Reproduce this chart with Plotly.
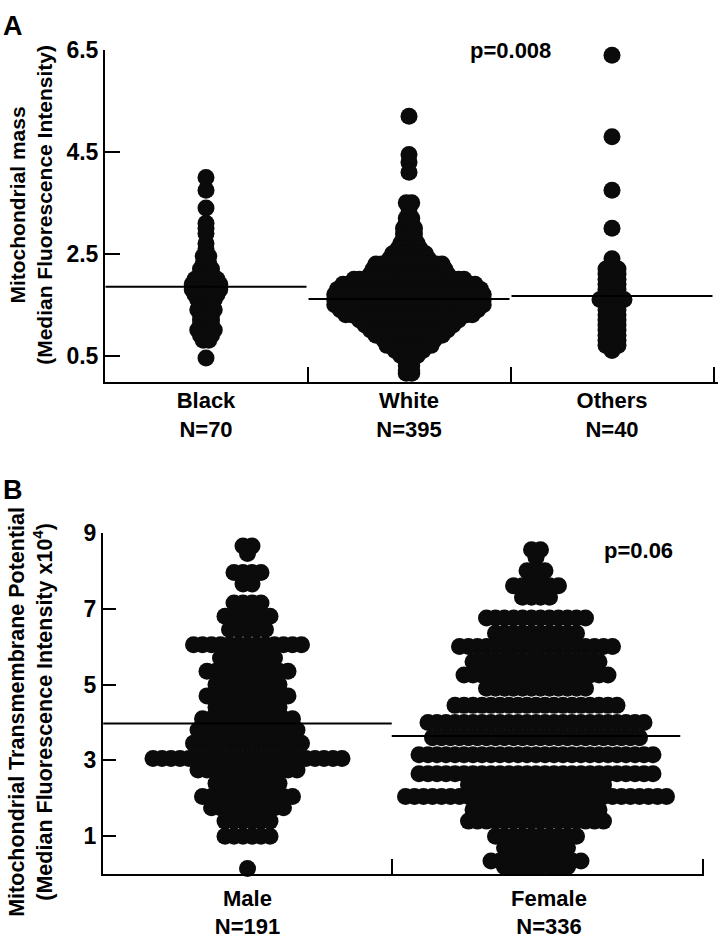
import plotly.graph_objects as go

# ---------------- Panel A: Mitochondrial mass by race ----------------
race_labels = ["Black<br>N=70", "White<br>N=395", "Others<br>N=40"]
race_means = [1.85, 1.61, 1.67]

black_vals = [4.0, 3.75, 3.4, 3.1, 3.0, 2.9, 2.7, 2.6, 2.45, 2.3, 2.2, 2.1, 2.0,
              1.9, 1.8, 1.7, 1.6, 1.5, 1.4, 1.3, 1.2, 1.1, 1.0, 0.9, 0.8, 0.45]
black_counts = [1, 1, 1, 1, 1, 1, 1, 1, 2, 2, 3, 3, 5,
                6, 6, 5, 4, 3, 4, 3, 3, 3, 4, 3, 2, 1]

white_vals = [5.2, 4.45, 4.3, 4.1, 3.5, 3.4, 3.3, 3.2, 3.1, 3.0, 2.9, 2.8, 2.7,
              2.6, 2.5, 2.4, 2.3, 2.2, 2.1, 2.0, 1.9, 1.8, 1.7, 1.6, 1.5, 1.4,
              1.3, 1.2, 1.1, 1.0, 0.9, 0.8, 0.7, 0.6, 0.5, 0.4, 0.3, 0.2, 0.15]
white_counts = [1, 1, 1, 1, 2, 1, 1, 2, 2, 3, 3, 3, 4,
                5, 7, 8, 13, 14, 15, 21, 25, 27, 28, 28, 28, 26,
                24, 19, 17, 15, 13, 10, 9, 6, 4, 2, 2, 2, 2]

others_vals = [6.4, 4.8, 3.75, 3.0, 2.4, 2.3, 2.2, 2.1, 2.0, 1.9, 1.8, 1.7, 1.6,
               1.5, 1.4, 1.3, 1.2, 1.1, 1.0, 0.9, 0.8, 0.7, 0.65, 0.6]
others_counts = [1, 1, 1, 1, 1, 1, 2, 2, 2, 2, 2, 2, 3,
                 1, 2, 2, 2, 2, 2, 2, 2, 2, 1, 1]

# ---------------- Panel B: Transmembrane potential by sex ----------------
sex_labels = ["Male<br>N=191", "Female<br>N=336"]
sex_means = [3.97, 3.64]

male_vals = [8.65, 8.45, 7.95, 7.65, 7.15, 6.8, 6.45, 6.05, 5.7, 5.35, 5.0, 4.7,
             4.4, 4.1, 3.8, 3.45, 3.05, 2.75, 2.4, 2.05, 1.75, 1.4, 1.0, 0.15]
male_counts = [2, 1, 4, 2, 4, 6, 5, 13, 7, 10, 8, 10,
               8, 11, 12, 13, 22, 12, 8, 11, 9, 6, 6, 1]

female_vals = [8.55, 8.35, 8.0, 7.6, 7.3, 6.75, 6.35, 6.0, 5.6, 5.25, 4.9, 4.45,
               4.0, 3.6, 3.15, 2.65, 2.35, 2.05, 1.7, 1.4, 1.0, 0.7, 0.35, 0.2]
female_counts = [2, 1, 3, 6, 4, 12, 10, 18, 15, 17, 12, 19,
                 25, 24, 27, 27, 16, 30, 15, 16, 10, 8, 11, 8]

# ---------------- layout geometry (pixels) ----------------
W, H = 720, 939
FONT = "Liberation Sans, Arial, sans-serif"
DOT = "#0b0b0b"

A_left, A_right, A_top, A_bot = 105, 718, 38, 377
A_px_per_cat = 203.0
A_c0 = 206.0
B_left, B_right, B_top, B_bot = 103, 704, 531, 880
B_px_per_cat = 288.5
B_c0 = 247.5


def swarm(vals, counts, center, spacing):
    xs, ys = [], []
    for v, c in zip(vals, counts):
        for i in range(c):
            xs.append(center + (i - (c - 1) / 2.0) * spacing)
            ys.append(v)
    return xs, ys


fig = go.Figure()

A_spacing_px = [5.5, 5.5, 12.0]
for k, (vals, counts) in enumerate([(black_vals, black_counts),
                                     (white_vals, white_counts),
                                     (others_vals, others_counts)]):
    xs, ys = swarm(vals, counts, k, A_spacing_px[k] / A_px_per_cat)
    fig.add_trace(go.Scatter(x=xs, y=ys, mode="markers", xaxis="x", yaxis="y",
                             marker=dict(size=17, color=DOT, line=dict(width=0)),
                             cliponaxis=False, showlegend=False, hoverinfo="skip"))
for k, m in enumerate(race_means):
    fig.add_trace(go.Scatter(x=[k - 0.495, k + 0.495], y=[m, m], mode="lines",
                             xaxis="x", yaxis="y", line=dict(color="black", width=2),
                             showlegend=False, hoverinfo="skip"))

sB = 9.0 / B_px_per_cat
for k, (vals, counts) in enumerate([(male_vals, male_counts),
                                     (female_vals, female_counts)]):
    xs, ys = swarm(vals, counts, k, sB)
    fig.add_trace(go.Scatter(x=xs, y=ys, mode="markers", xaxis="x2", yaxis="y2",
                             marker=dict(size=17, color=DOT, line=dict(width=0)),
                             cliponaxis=False, showlegend=False, hoverinfo="skip"))
for k, m in enumerate(sex_means):
    fig.add_trace(go.Scatter(x=[k - 0.5, k + 0.5], y=[m, m], mode="lines",
                             xaxis="x2", yaxis="y2", line=dict(color="black", width=2),
                             showlegend=False, hoverinfo="skip"))

A_xmin = (A_left - A_c0) / A_px_per_cat
A_xmax = (A_right - A_c0) / A_px_per_cat
B_xmin = (B_left - B_c0) / B_px_per_cat
B_xmax = (B_right - B_c0) / B_px_per_cat
A_ymin = 6.5 - (A_bot - A_top) / 52.0

tickfont = dict(family=FONT, size=23, color="black", weight="bold")
catfont = dict(family=FONT, size=22, color="black", weight="bold")
axis_common = dict(showline=True, linecolor="black", linewidth=2, showgrid=False,
                   zeroline=False, fixedrange=True)

fig.update_layout(
    width=W, height=H, margin=dict(l=0, r=0, t=0, b=0),
    paper_bgcolor="white", plot_bgcolor="white",
    xaxis=dict(domain=[A_left / W, A_right / W], range=[A_xmin, A_xmax],
               tickmode="array", tickvals=[0, 1, 2], ticktext=race_labels,
               ticks="inside", ticklen=0, tickfont=catfont, ticklabelstandoff=-2,
               minor=dict(tickmode="array", tickvals=[0.5, 1.5, 2.5], ticks="inside",
                          ticklen=15, tickwidth=2, tickcolor="black"),
               anchor="y", **axis_common),
    yaxis=dict(domain=[1 - A_bot / H, 1 - A_top / H], range=[A_ymin, 6.5],
               tickmode="array", tickvals=[0.5, 2.5, 4.5, 6.5],
               ticktext=["0.5", "2.5", "4.5", "6.5"],
               ticks="inside", ticklen=15, tickwidth=2, tickcolor="black",
               tickfont=tickfont, anchor="x", **axis_common),
    xaxis2=dict(domain=[B_left / W, B_right / W], range=[B_xmin, B_xmax],
                tickmode="array", tickvals=[0, (549 - B_c0) / B_px_per_cat],
                ticktext=sex_labels,
                ticks="inside", ticklen=0, tickfont=catfont, ticklabelstandoff=3,
                minor=dict(tickmode="array", tickvals=[0.5, B_xmax - 0.004], ticks="inside",
                           ticklen=15, tickwidth=2, tickcolor="black"),
                anchor="y2", **axis_common),
    yaxis2=dict(domain=[1 - B_bot / H, 1 - B_top / H], range=[0, 9],
                tickmode="array", tickvals=[1, 3, 5, 7, 9],
                ticktext=["1", "3", "5", "7", "9"],
                ticks="inside", ticklen=13, tickwidth=2, tickcolor="black",
                tickfont=tickfont, anchor="x2", **axis_common),
)

ann_font = dict(family=FONT, color="black")
annotations = [
    dict(text="<b>A</b>", x=1 / W, y=1 - 13 / H, xanchor="left", yanchor="middle",
         font=dict(size=27, **ann_font)),
    dict(text="<b>B</b>", x=1 / W, y=1 - 487 / H, xanchor="left", yanchor="middle",
         font=dict(size=27, **ann_font)),
    dict(text="<b>p=0.008</b>", x=510 / W, y=1 - 38 / H, xanchor="center", yanchor="middle",
         font=dict(size=22, **ann_font)),
    dict(text="<b>p=0.06</b>", x=638 / W, y=1 - 549 / H, xanchor="center", yanchor="middle",
         font=dict(size=22, **ann_font)),
    dict(text="<b>Mitochondrial mass</b><br><b>(Median Fluorescence Intensity)</b>",
         x=31 / W, y=1 - 196 / H, textangle=-90, xanchor="center", yanchor="middle",
         font=dict(size=21, **ann_font)),
    dict(text="<b>Mitochondrial Transmembrane Potential</b><br>"
              "<b>(Median Fluorescence Intensity x10<sup>4</sup>)</b>",
         x=31 / W, y=1 - 714 / H, textangle=-90, xanchor="center", yanchor="middle",
         font=dict(size=21.5, **ann_font)),
]
for a in annotations:
    a.update(xref="paper", yref="paper", showarrow=False)
fig.update_layout(annotations=annotations)

fig.write_html("out.html")
